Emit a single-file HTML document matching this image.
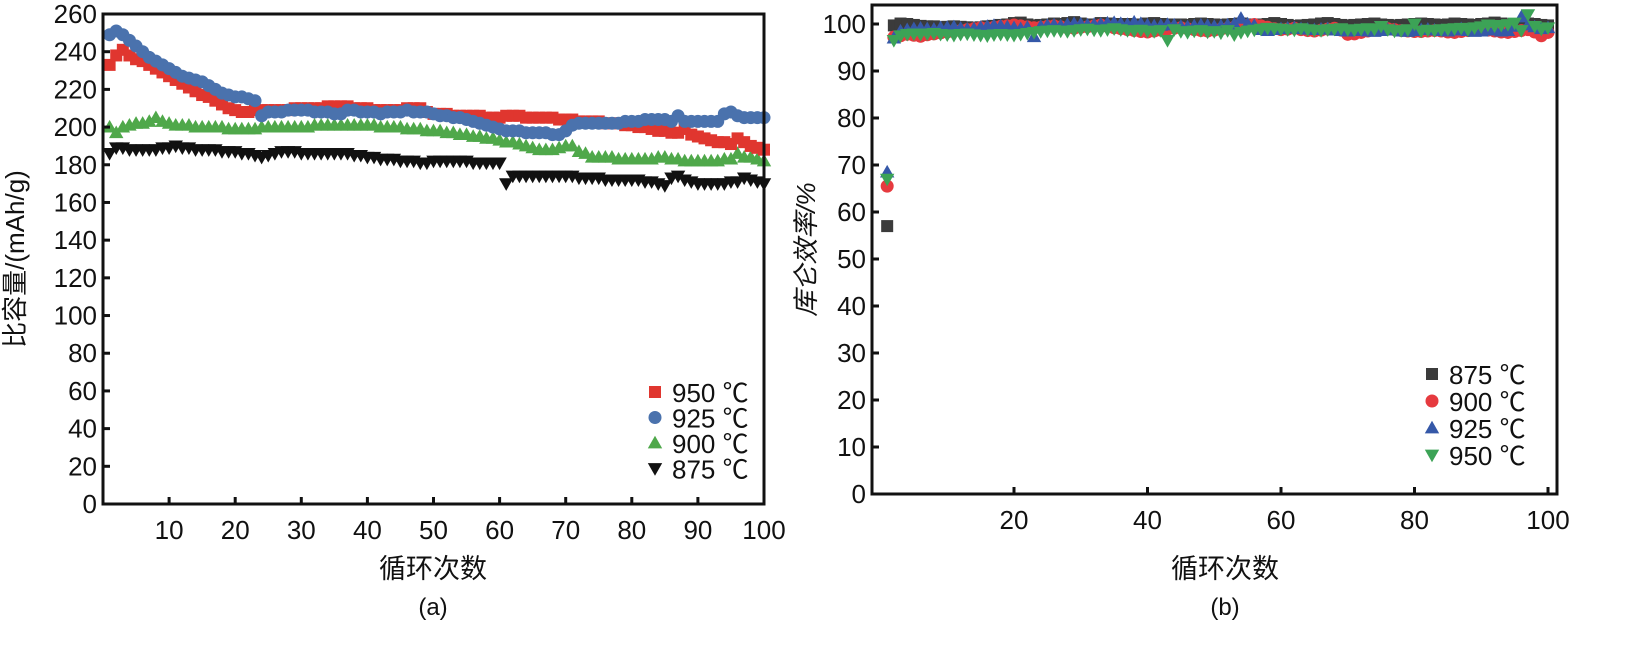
<!DOCTYPE html>
<html><head><meta charset="utf-8"><style>
body{margin:0;background:#fff;width:1636px;height:647px;overflow:hidden}
svg{display:block}
text{font-family:"Liberation Sans","Noto Sans CJK SC",sans-serif;fill:#111}
</style></head><body>
<svg id="chart" width="1636" height="647" viewBox="0 0 1636 647"></svg>
<script>
const cycles = Array.from({length:100},(_, i)=>i+1);
const capTicksY = [0,20,40,60,80,100,120,140,160,180,200,220,240,260];
const capTicksX = [10,20,30,40,50,60,70,80,90,100];
const cap950 = [233,238,241,238,236,235,233,231,229,227,225,223,221,219,217,216,214,212,210,209,208,208,209,209,209,209,209,209,210,210,210,210,210,211,211,211,211,210,210,210,209,209,209,209,209,210,210,210,208,207,207,207,206,206,206,206,206,205,205,205,206,206,206,205,205,205,205,205,204,204,204,203,203,203,203,202,202,202,201,201,200,200,199,198,198,197,197,199,196,195,194,193,192,192,191,194,192,190,189,188];
const cap925 = [249,251,249,246,243,240,237,235,233,231,229,227,226,225,224,222,220,218,217,216,216,215,214,206,208,208,208,209,209,209,209,208,208,208,207,207,209,209,208,208,208,207,208,208,208,209,208,208,208,207,206,206,205,205,204,203,202,201,200,199,198,198,198,197,197,197,197,196,196,198,201,202,202,202,202,202,202,202,203,203,203,204,204,204,204,203,206,203,203,203,203,203,203,207,208,206,205,205,205,205];
const cap900 = [200,197,200,201,202,202,203,205,203,202,201,201,201,200,200,200,200,200,199,199,199,199,199,200,200,200,200,200,200,200,200,201,201,201,201,201,201,201,201,201,201,200,200,200,200,199,199,199,198,198,198,197,197,196,196,195,195,194,194,193,192,192,191,190,189,188,188,188,189,190,190,187,186,184,184,184,184,183,183,183,183,183,183,184,184,183,183,182,182,182,182,182,182,183,183,186,184,184,183,182];
const cap875 = [186,189,189,188,188,188,188,188,189,189,190,189,189,188,188,188,188,187,187,187,186,186,185,184,185,186,187,187,187,186,186,186,186,186,186,186,186,185,185,184,184,183,183,183,182,182,182,181,181,182,182,182,182,182,182,181,181,181,181,181,170,174,174,174,174,174,174,174,174,174,174,173,173,173,173,172,172,172,172,172,172,171,171,170,169,173,174,172,171,170,170,170,170,170,171,171,173,172,171,170];
const ceTicksY = [0,10,20,30,40,50,60,70,80,90,100];
const ceTicksX = [20,40,60,80,100];
const ce875 = [57,99.7,100.1,100,99.8,99.6,99.5,99.5,99.3,99.4,99.5,99.4,99.3,99.2,99.3,99.5,99.6,99.8,99.9,100.2,100.3,99.9,99.7,99.8,99.9,100.1,100,100.2,100.4,100.1,99.9,99.8,100.2,100.1,100,99.9,100,99.8,99.9,100.1,100.2,100,99.9,99.8,99.9,99.8,100,100.1,100,99.9,99.8,99.9,100,100.1,99.9,99.8,99.9,100,100.2,100,99.8,99.6,99.7,99.8,99.9,100.1,100.2,100,99.8,99.7,99.8,99.9,100,100.1,99.9,99.8,99.7,99.8,99.9,100,100.1,100,99.9,99.8,99.9,100.1,100,99.9,99.8,100,100.1,100.3,100.1,99.9,99.8,100,100.1,100,99.8,99.7];
const ce900 = [65.5,97.2,97.5,97.8,97.6,97.4,97.7,97.9,98.1,98.3,98.5,98.6,98.8,99,99.2,99.1,99.3,99.5,99.6,99.8,99.6,99.4,99.2,99.3,99.5,99.6,99.4,99.2,99.1,99.3,99.4,99.6,99.8,99.5,99.2,99,98.8,98.6,98.4,98.3,98.5,98.7,98.9,99.1,99.2,99,98.8,98.6,98.5,98.7,98.9,99.1,99.3,99.5,99.7,99.9,99.6,99.3,99,98.8,98.9,99.1,98.8,98.6,98.5,98.7,98.9,99.1,98.7,97.8,97.9,98.2,98.5,98.7,98.9,99,98.8,98.6,98.5,98.4,98.4,98.5,98.6,98.5,98.3,98.2,98.4,98.6,98.8,99,98.7,98.5,98.3,98.2,98.4,98.6,98.8,98.3,97.5,98.2];
const ce925 = [68.5,97,98.5,98.8,99,99.1,99,98.9,99.2,99.3,99.4,99.1,98.9,99,99.3,99.5,99.7,99.6,99.4,99.2,99,99.3,97.3,99.5,99.7,99.8,99.6,99.9,100.1,100,99.8,99.9,100,100.2,100.3,100.1,99.9,100.4,100.1,99.8,99.6,99.7,99.9,99.8,99.5,99.4,99.6,99.8,99.7,99.5,99.6,99.8,100,101.2,100,99.7,98.8,98.6,98.8,99,99.1,99.2,99,98.9,98.8,98.9,99,98.7,98.6,98.5,98.6,98.7,98.5,98.4,98.6,98.8,98.7,98.5,98.4,98.6,98.8,98.9,98.7,98.6,98.5,98.7,99,98.6,98.4,98.5,98.7,98.9,98.5,98.6,99.5,101.5,99.8,99.4,99,99.2];
const ce950 = [67,96.5,97.5,97.8,97.9,97.8,97.9,98,97.8,97.7,97.6,97.8,97.9,97.7,97.6,97.5,97.7,97.8,97.7,97.6,97.8,98,98.2,98.4,98.5,98.6,98.5,98.4,98.6,98.8,98.9,98.7,98.6,98.8,99,98.8,98.6,98.5,98.7,98.5,98.4,98.6,96.5,98.8,98.4,98.2,98.5,98.6,98.3,98.4,98.1,98.6,97.7,98.2,98.5,98.7,98.9,99.1,99,98.9,98.8,98.7,99,98.8,98.7,98.6,98.8,98.9,99,98.8,98.7,98.9,99,98.9,99.5,98.8,98.5,98.6,98.8,100,98.5,98.7,98.6,98.8,98.9,99,99.1,98.8,99.2,99.4,99.8,99.6,99.7,99.9,100.2,98.6,102,99.5,98.9,99.2];

const NS="http://www.w3.org/2000/svg";
const svg=document.getElementById('chart');
function mk(tag,attrs,parent){const e=document.createElementNS(NS,tag);for(const k in attrs)e.setAttribute(k,attrs[k]);(parent||svg).appendChild(e);return e;}
function marker(g,shape,x,y,s,color){
  let e;
  if(shape==='square') e=mk('rect',{x:x-s/2,y:y-s/2,width:s,height:s,fill:color},g);
  else if(shape==='circle') e=mk('circle',{cx:x,cy:y,r:s/2+0.5,fill:color},g);
  else if(shape==='up') e=mk('polygon',{points:`${x},${y-s*0.6} ${x-s*0.6},${y+s*0.45} ${x+s*0.6},${y+s*0.45}`,fill:color},g);
  else e=mk('polygon',{points:`${x},${y+s*0.6} ${x-s*0.6},${y-s*0.45} ${x+s*0.6},${y-s*0.45}`,fill:color},g);
  return e;
}
function panel(o){
  const g=mk('g',{});
  
  
  const sx=v=>o.x0+(v-o.xmin)/(o.xmax-o.xmin)*(o.x1-o.x0);
  const sy=v=>o.y0-(v-o.ymin)/(o.ymax-o.ymin)*(o.y0-o.y1);
  o.series.forEach(s=>{
    const sg=mk('g',{},g);
    
    
    s.data.forEach((v,i)=>{const m=marker(sg,s.shape,sx(cycles[i]),sy(v),o.ms,s.color);
      
      });
  });
  const fr=mk('rect',{x:o.fx0,y:o.fy1,width:o.fx1-o.fx0,height:o.y0-o.fy1,fill:'none',stroke:'#111','stroke-width':3},g);
  
  
  o.yt.forEach(t=>{const y=sy(t);
    mk('line',{x1:o.fx0,x2:o.fx0+7,y1:y,y2:y,stroke:'#111','stroke-width':3},g);
    const tx=mk('text',{x:o.fx0-6,y:y+9,'text-anchor':'end','font-size':26},g);tx.textContent=t;
    
    });
  o.xt.forEach(t=>{const x=sx(t);
    mk('line',{x1:x,x2:x,y1:o.y0,y2:o.y0-7,stroke:'#111','stroke-width':3},g);
    const tx=mk('text',{x:x,y:o.y0+35,'text-anchor':'middle','font-size':26},g);tx.textContent=t;
    
    });
  const xl=mk('text',{x:o.cx,y:578,'text-anchor':'middle','font-size':27},g);xl.textContent='循环次数';
  
  
  const cap=mk('text',{x:o.cx,y:615,'text-anchor':'middle','font-size':24},g);cap.textContent=o.cap;
  
  
  const yl=mk('text',{x:0,y:0,'text-anchor':'middle','font-size':26,transform:`translate(${o.ytx},${(o.fy1+o.y0)/2}) rotate(-90)`,'font-style':o.italic?'italic':'normal'},g);yl.textContent=o.ytitle;
  
  
  o.legendOrder.forEach((s,i)=>{const y=o.ly+i*o.lstep;
    const lg=mk('g',{},g);
    
    
    marker(lg,s.shape,o.lx,y,o.ms,s.color);
    const t=mk('text',{x:o.lx+17,y:y+10,'font-size':26},lg);t.textContent=s.label;});
}
const L=[{label:'950 ℃',shape:'square',color:'#e0362f',data:cap950},
 {label:'925 ℃',shape:'circle',color:'#4a72ad',data:cap925},
 {label:'900 ℃',shape:'up',color:'#4fa84a',data:cap900},
 {label:'875 ℃',shape:'down',color:'#111',data:cap875}];
panel({name:'capacity-chart',x0:103,x1:764,xmin:0,xmax:100,fx0:103,fx1:764,y0:504,y1:14,fy1:14,ymin:0,ymax:260,
  yt:capTicksY,xt:capTicksX,ms:12,series:[L[2],L[3],L[0],L[1]],legendOrder:L,lx:655,ly:392,lstep:25.5,
  cx:433,cap:'(a)',ytx:24,ytitle:'比容量/(mAh/g)'});
const R=[{label:'875 ℃',shape:'square',color:'#3b3b3b',data:ce875},
 {label:'900 ℃',shape:'circle',color:'#e63a3f',data:ce900},
 {label:'925 ℃',shape:'up',color:'#3558a8',data:ce925},
 {label:'950 ℃',shape:'down',color:'#3ca356',data:ce950}];
panel({name:'coulombic-efficiency-chart',x0:880.5,x1:1548,xmin:0,xmax:100,fx0:872,fx1:1557,y0:494,y1:24,fy1:5,ymin:0,ymax:100,
  yt:ceTicksY,xt:ceTicksX,ms:12,series:R,legendOrder:R,lx:1432,ly:374,lstep:27,
  cx:1225,cap:'(b)',ytx:815,ytitle:'库仑效率/%',italic:true});
</script>
</body></html>
